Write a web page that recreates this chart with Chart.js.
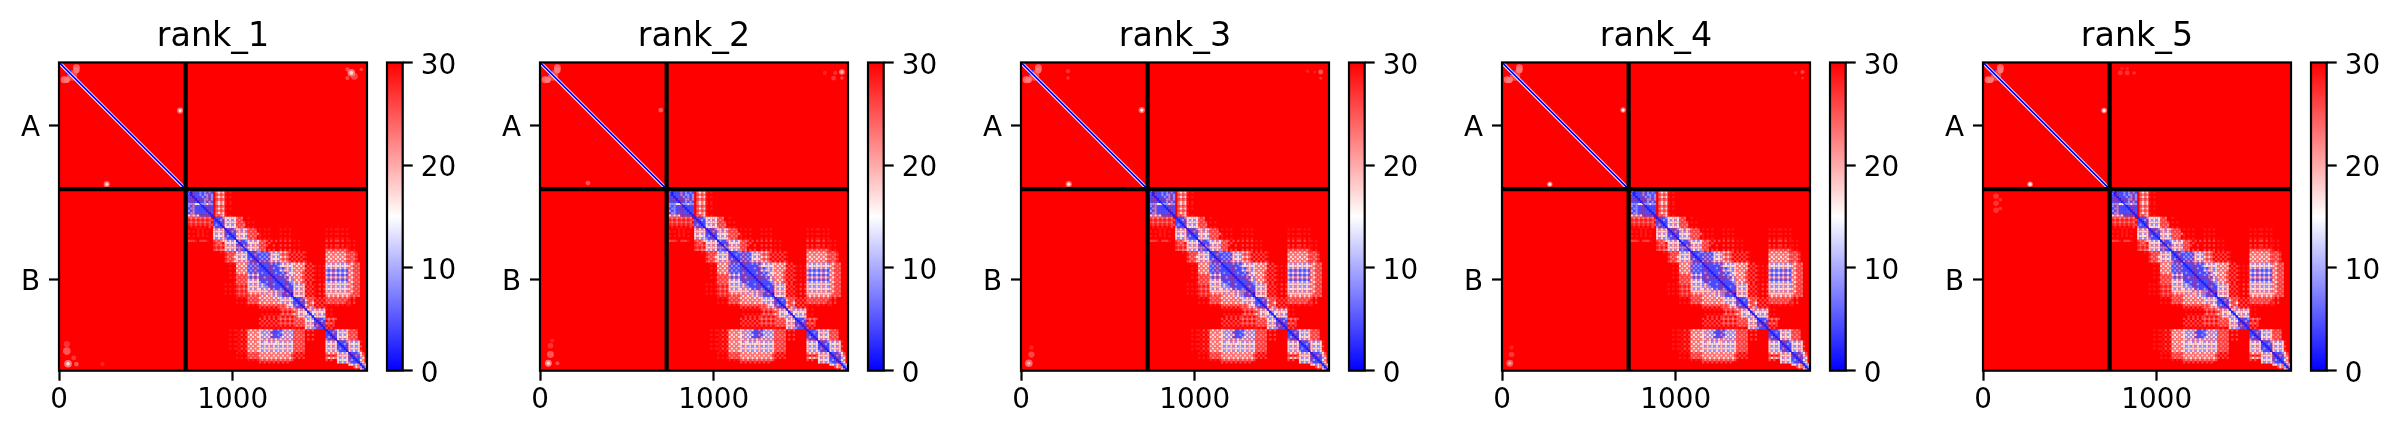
<!DOCTYPE html>
<html>
<head>
<meta charset="utf-8">
<title>PAE</title>
<script src="https://cdn.jsdelivr.net/npm/chart.js@4"></script>
<style>
  html, body { margin: 0; background: #fff; overflow: hidden; }
  body { position: relative; width: 2401px; height: 438px; }
  canvas { position: absolute; top: 0; }
</style>
</head>
<body>
<script>
const rankNames = ['rank_1', 'rank_2', 'rank_3', 'rank_4', 'rank_5'];
const residueCount = 1773;
const chainBreak = 729;
const chainBStart = 742;
const chainLabels = ['A', 'B'];
const chainCentres = [364.5, 1251];
const xTickValues = [0, 1000];
const colorbarTicks = [0, 10, 20, 30];
const paeRange = [0, 30];

// PAE levels used in the chain B grid below
const levelChars = ['q', 'r', 'p', 'w', 'l', 'b', 'd'];
const levelValues = [28.5, 26, 23, 17, 8.5, 4.5, 1];
const cellSpan = 13.2; // residues per grid cell

// chain B vs chain B, '.' is the 30 background
const chainBRows = [
  'wdbbblblblb .pwpw q.q.. ..... ..... ......... ...... ..... .... ..... ..... ..... ..... ...',
  'bdbbblbllbl .rprp ..... ..... ..... ......... ...... ..... .... ..... ..... ..... ..... ...',
  'bbdbbblblbl .pwpw q.q.. ..... ..... ......... ...... ..... .... ..... ..... ..... ..... ...',
  'bbbdbbbllbl .rprp ..... ..... ..... ......... ...... ..... .... ..... ..... ..... ..... ...',
  'bbbbdbblblb .pwpw q.q.. ..... ..... ......... ...... ..... .... ..... ..... ..... ..... ...',
  'lllwwwllwll .pwpw q.q.. ..... ..... ......... ...... ..... .... ..... ..... ..... ..... ...',
  'lblbbbdbbbb .rprp ..... ..... ..... ......... ...... ..... .... ..... ..... ..... ..... ...',
  'bllbbbbdbbb .pwpw q.q.. ..... ..... ......... ...... ..... .... ..... ..... ..... ..... ...',
  'lblbbbbbdbb .rprp ..... ..... ..... ......... ...... ..... .... ..... ..... ..... ..... ...',
  'bllbbbbbbdb .pwpw q.... ..... ..... ......... ...... ..... .... ..... ..... ..... ..... ...',
  'wlwlwbbbbbd .prpw q.q.. ..... ..... ......... ...... ..... .... ..... ..... ..... ..... ...',
  'rprprprprp. dbbbl wwwww prp.. q.... ......... ...... ..... .... ..... ..... ..... ..... ...',
  'qrqrqrqrqrr bdblb wlwlw rpr.. ..... ......... ...... ..... .... ..... ..... ..... ..... ...',
  'rprprprprp. bbdbb wwwww prpr. q.q.. ......... ...... ..... .... ..... ..... ..... ..... ...',
  'qrqrqrqrqrr blbdb wlwlw rprp. ..... ......... ...... ..... .... ..... ..... ..... ..... ...',
  '.q.q.q.q.r. lbbbd wwwww prpr. q.q.. ......... ...... ..... .... ..... ..... ..... ..... ...',
  '....q.q.... wlwlw dbbbl wwlww prpr. q.q.q.... q.q.q. ..... .... ..... q.q.q q.q.q ..... ...',
  'q.q.q.q.q.. wwwww bdblb lwlwl rprp. ......... ...... ..... .... ..... ..... ..... ..... ...',
  '....q.q.... wlwlw bbdbb wwwww prprp q.q.q.... q.q.q. ..... .... ..... q.q.q q.q.q ..... ...',
  'q.q.q.q.q.. wwwww blbdb lwlwl rprp. q........ ...... ..... .... ..... ..... ..... ..... ...',
  '........... wlwlw lbbbd wwwww prpr. q.q.q.... q.q.q. ..... .... ..... q.q.q q.q.q ..... ...',
  'rrrq.rrrq.. rprpw wlwlw dlbbl wlwlw prpr.r.r. r.r.r. q.q.. .... ..... r.r.r r.r.q q.q.. ...',
  '........... qrpr. wwwww ldbbb wwwww rpr.r.... ...... ..... .... ..... ..... ..... ..... ...',
  '........... rprpr wlwlw bbdlb lwlwl prpr..r.. r.r.r. q.q.. .... ..... r.r.r r.r.q q.q.. ...',
  '........... qrqr. wwwww lllll wwwww rpr...... ...... ..... .... ..... q.q.q q.q.q ..... ...',
  '........... rprpp wlwlw blbbd lwlwl prp.r.r.. r.r.r. q.q.. .... ..... prprp rprpr q.q.. ...',
  '........... ...q. rprpr wlwlw dbbbl lblblwlwl wpwpr. r.r.r q... ..... pwpwp wpwpr rprq. ...',
  '........... ..... qrprp wwwww bdblb blblbwwww prpr.r .r.r. .... ..... wpwpw pwpwp prpr. ...',
  '........... ..... rprpw wlwlw bbdbb lblblwlwl wpwpr. r.r.r q... ..... pwpwp wpwpr rprq. ...',
  '........... ..... qrprp wwwww blbdb blblbwwww prpr.r .r.r. .... ..... wpwpw pwpwp prpr. ...',
  '........... ..... rprpw wlwlw lbbbd lblblwlwl wpwpr. r.r.r q... ..... pwpwp wpwpr rprq. ...',
  '........... ..... ..q.q pwpwp lblbl dbbbblblb lwlwlw wpwpw r.r. ..... wlwlw lwlwl pwprp ...',
  '........... ..... ..... wpwpw blblb bdbbbbbbl wwwwww pwpwp .r.r q.q.q wwwww wwwww wprpr ...',
  '........... ..... ..q.q pwpwp lblbl bbdbbblbb lblwlw wpwpw r.r. ..... wlwlw lwlwl pwprp ...',
  '........... ..... ..... wpwpw blblb bbbdbbbbb wlwwlw pwpwp .r.r q.q.q lblbl blblb wprpr ...',
  '........... ..... ..q.q pwpwp lblbl blbbdbblb blblww wpwpr r.r. ..... wlwlw lwlwl pwprp ...',
  '........... ..... ..... rprpr wlwlw bbbbbdbbb lblwlw pwpwp .r.r q.q.q lblbl blblb wprpr ...',
  '........... ..... ..q.q prprp lblbl bblbbbdbb bblbwl wpwpr r.r. ..... wlwlw lwlwl pwprp ...',
  '........... ..... ..... rprpr wlwlw bbbbbbbdb bbblwl pwpwp .r.r q.q.q lblbl blblb wprpr ...',
  '........... ..... ....q prprp wwwww lbblbbbbd bbbbll wpwpr r.r. ..... wlwlw lwlwl pwprp ...',
  '........... ..... q.q.q rprpr wlwlw lwlbbblbb dbbbbl wlwlw r.r. q.r.r wwwww wwwww wprpr ...',
  '........... ..... ..... qrqrq wwwww lwllbbbbb bdblbb wwwww .r.r ..... wlwlw lwlwl pwprp ...',
  '........... ..... q.q.q rprpr wlwlw wlwlwblbb lbdbbb wlwlw r.r. q.r.r wwwww wwwww wprpr ...',
  '........... ..... ..... qrqrq wwwww wwwwlwlwl llbdbb wwwww .r.r ..... wlwlw lwlwl pwprp ...',
  '........... ..... q.q.q rprpr pwpwp wlwlwwlwl lbblbd wlwlw r.r. q.r.r wwwww wwwww wprpr ...',
  '........... ..... ..... qrqrq rprpr pwpwpwlwl lbbbbd wwwww .r.r ..... pwpwp wpwpw prprp ...',
  '........... ..... ..... q.q.q prprp wpwpwpwpw wlwlwl dbbbl prpr r.r.r rprpr prprp r.r.. ...',
  '........... ..... ..... ..... rprpr pwpwpwpwp wwwwww bdblb wprp .r.r. prprp rprpr q.q.. ...',
  '........... ..... ..... q.q.q prprp wpwpwpwpw wlwlwl bbdbb prpw r.r.r rprpr prprq r.r.. ...',
  '........... ..... ..... ..... q.q.q rprprprpr prpwww blbdb wprp .r.r. q.q.q q.q.q q.... ...',
  '........... ..... ..... ..... ..... r.r.r.r.r prpwlw lbbbd prwl r.r.r ..... ..... ..... ...',
  '........... ..... ..... ..... ..... .q.q.q.q. rprprp wpwlw dwwl wlwlw q.q.. ..... ..... ...',
  '........... ..... ..... ..... ..... ......... .r.r.r rpwww wdlw wwwww ..... ..... ..... ...',
  '........... ..... ..... ..... ..... .q.q.q.q. rprprp wpwlw wldw lwlwl q.q.. ..... ..... ...',
  '........... ..... ..... ..... ..... ..r.r.r.r r.r.r. rpwww lwwd wwwww ..... ..... ..... ...',
  '........... ..... ..... ..... ..... r.r.r.r.r prprpr prprp wlwl dbbbl rprpr ..... ..... ...',
  '........... ..... ..... ..... ..... .r.r.r.r. r.r.r. rprpr wwww bdblb .r.r. ..... ..... ...',
  '........... ..... ..... ..... ..... r.r.r.r.r prprpr prprp wlwl bbdbb prpr. ..... ..... ...',
  '........... ..... ..... ..... ..... .r.r.r.r. r.r.r. rprpr wwww blbdb .r.r. ..... ..... ...',
  '........... ..... ..... ..... ..... q.q.q.q.q .q.q.q q.q.. wlwl lbbbd r.r.. ..... ..... ...',
  '........... ..... ..q.q q.r.r pwpwp wwlwlwbbl blwlwl prprp .r.r ..... dbbbl wlwlw prpr. ...',
  '........... ..... ..... .q.q. wpwpw wlwlwbbbb lwlwlw rprpr .... ..... bdblb wwwww rprp. ...',
  '........... ..... ..q.q q.r.r pwpwp wwlwlwbbl blwlwl prprp .r.r ..... bbdbb wlwlw prpr. ...',
  '........... ..... ..... .q.q. wpwpw wlwlwbbbb lwlwlw rprpr .... ..... blbdb wwwww rprp. ...',
  '........... ..... ..q.q q.r.r pwpwp wwlwlwlwl wlwlwl prprp .r.r ..... lbbbd wlwlw prpr. ...',
  '........... ..... ..... .q.q. wpwpw wlwwlwlww lwlwlw rprpr .... ..... wlwlw dbbbl wlwlw q..',
  '........... ..... ..q.q q.r.r pwpwp wwwwwwwww wwwwww prprp .... ..... wwwww bdblb wwwww ...',
  '........... ..... ..... .q.q. wpwpw wlwlwlwlw lwlwlw rprpr .... ..... wlwlw bbdbb wlwlw r..',
  '........... ..... ..q.q q.r.r pwpwp wwwwwwwww wwwwww prprp .... ..... wwwww blbdb wwwww ...',
  '........... ..... ..... .q.q. wpwpw wlwlwlwlw lwlwlw rprpr .... ..... wlwlw lbbbd wlwlw r..',
  '........... ..... ..... q.q.q rprpr pwpwpwpwp wpwpwp r.r.r .... ..... pwpwp wlwlw dbbbl wr.',
  '........... ..... ..... ..... prprp wpwpwpwpw pwpwpr .r.r. .... ..... r.r.r wwwww bdblb wp.',
  '........... ..... ..... q.q.q rprpr pwpwpwpwp wpwpwp r.r.r .... ..... pwpwp wlwlw bbdbb lw.',
  '........... ..... ..... ..... q.q.q rprprprpr prprpr ..... .... ..... r.r.. wwwww blbdb wp.',
  '........... ..... ..... ..... ..... r.r.r.r.r .r.r.. ..... .... ..... ..... wlwlw lbbbd lw.',
  '........... ..... ..... ..... ..... ......... ...... ..... .... ..... ..... ..... wwlwp dlw',
  '........... ..... ..... ..... ..... ......... ...... ..... .... ..... ..... ..... ..rwp ldl',
  '........... ..... ..... ..... ..... ......... ...... ..... .... ..... ..... ..... ...r. wld',
];

// spots as [x residue, y residue, radius in residues, pae]
const diagSpots = [
  [75, 75, 30, 26], [30, 100, 20, 24], [45, 100, 18, 23], [100, 30, 20, 24], [100, 45, 18, 23],
  [56, 56, 16, 2], [112, 112, 14, 3], [278, 278, 9, 6],
];
const rank1Spots = [
  [697, 277, 18, 24], [697, 277, 9, 17], [275, 700, 18, 24], [275, 700, 9, 17],
  [1700, 80, 20, 26], [1660, 40, 12, 26], [1660, 90, 12, 26], [1740, 40, 10, 26], [1683, 59, 22, 23], [1683, 59, 11, 17],
  [45, 1660, 22, 25], [45, 1620, 18, 27], [100, 1735, 14, 25], [85, 1700, 14, 27], [52, 1733, 22, 23], [52, 1733, 10, 17],
  [250, 1735, 12, 28],
];
const rank2Spots = [
  [695, 274, 14, 25], [276, 694, 14, 25], [1690, 90, 14, 27], [1640, 60, 12, 28], [1700, 60, 12, 27],
  [1738, 90, 10, 26], [1738, 55, 16, 23], [1738, 55, 7, 19],
  [60, 1680, 20, 25], [60, 1630, 16, 27], [70, 1600, 12, 28], [100, 1730, 12, 26], [48, 1730, 20, 23], [48, 1730, 10, 18],
];
const rank3Spots = [
  [695, 274, 18, 24], [695, 274, 9, 16], [275, 700, 18, 24], [275, 700, 9, 16],
  [271, 50, 12, 27], [271, 90, 10, 27], [1650, 50, 10, 28], [1690, 55, 8, 28], [1725, 90, 9, 27], [1725, 55, 14, 25],
  [60, 1680, 18, 26], [60, 1640, 14, 28], [45, 1730, 22, 24], [45, 1730, 10, 20],
];
const rank4Spots = [
  [697, 274, 16, 24], [697, 274, 9, 16], [275, 700, 16, 24], [275, 700, 9, 16],
  [1690, 60, 10, 28], [1730, 90, 8, 27], [1730, 55, 12, 26],
  [55, 1680, 16, 27], [55, 1640, 12, 28], [45, 1730, 20, 25], [45, 1730, 10, 21],
];
const rank5Spots = [
  [697, 277, 16, 23], [697, 277, 9, 14], [271, 700, 16, 23], [271, 700, 9, 14],
  [790, 60, 14, 27], [830, 60, 14, 27], [870, 60, 10, 27], [800, 35, 10, 28], [830, 35, 10, 28],
  [75, 770, 16, 27], [75, 810, 16, 27], [75, 850, 16, 27], [100, 790, 10, 27], [100, 840, 10, 27],
];
const rankSpots = [rank1Spots, rank2Spots, rank3Spots, rank4Spots, rank5Spots];

const panelLefts = [59, 540, 1021, 1502, 1983];
const panelSize = 308;
const axisTop = 62.5;
const axisBottom = 67.3;
const FONT = 'DejaVu Sans';

// matplotlib bwr
function bwr(v) {
  const t = Math.max(0, Math.min(1, v / paeRange[1]));
  const r = t < 0.5 ? 2 * t : 1;
  const g = 1 - Math.abs(2 * t - 1);
  const b = t < 0.5 ? 1 : 2 - 2 * t;
  return `rgb(${Math.round(r * 255)},${Math.round(g * 255)},${Math.round(b * 255)})`;
}

function chainBCells() {
  const cells = [];
  chainBRows.forEach((row, r) => {
    const chars = row.replace(/ /g, '');
    for (let c = 0; c < chars.length; c++) {
      const lvl = levelChars.indexOf(chars[c]);
      if (lvl < 0) continue;
      cells.push({
        x: chainBStart + (c + 0.5) * cellSpan,
        y: chainBStart + (r + 0.5) * cellSpan,
        v: levelValues[lvl],
      });
    }
  });
  return cells;
}

function pxPerResidue(chart) {
  const s = chart.scales.x;
  return s.width / (s.max - s.min);
}

const framePlugin = {
  id: 'frame',
  afterDraw(chart) {
    const { ctx, chartArea: a } = chart;
    ctx.save();
    ctx.strokeStyle = '#000';
    ctx.lineWidth = 2.2;
    ctx.strokeRect(a.left, a.top, a.right - a.left, a.bottom - a.top);
    ctx.restore();
  },
};

// red background below the cells, then soften them like imshow does
const softenPlugin = {
  id: 'soften',
  beforeDatasetsDraw(chart) {
    const { ctx, chartArea: a } = chart;
    ctx.save();
    ctx.fillStyle = bwr(paeRange[1]);
    ctx.fillRect(a.left, a.top, a.right - a.left, a.bottom - a.top);
    ctx.restore();
  },
  afterDatasetDraw(chart, args) {
    if (args.index !== 2) return;
    const { ctx, chartArea: a } = chart;
    ctx.save();
    ctx.beginPath();
    ctx.rect(a.left, a.top, a.right - a.left, a.bottom - a.top);
    ctx.clip();
    ctx.filter = 'blur(0.5px)';
    ctx.drawImage(chart.canvas, 0, 0);
    ctx.restore();
  },
};

function makeCanvas(left, width) {
  const canvas = document.createElement('canvas');
  canvas.width = width;
  canvas.height = 438;
  canvas.style.left = left + 'px';
  canvas.style.width = width + 'px';
  canvas.style.height = '438px';
  document.body.appendChild(canvas);
  return canvas;
}

function line(points, color, width) {
  return {
    data: points.map(([x, y]) => ({ x, y })),
    showLine: true,
    borderColor: color,
    borderWidth: width,
    pointRadius: 0,
    clip: false,
  };
}

function renderPanel(i) {
  const left = panelLefts[i];
  // canvas is symmetric round the axes so the title stays centred over them
  const canvas = makeCanvas(left - 59, 59 + panelSize + 59);
  const spots = diagSpots.concat(rankSpots[i]).map(([x, y, r, v]) => ({ x, y, r, v }));

  new Chart(canvas.getContext('2d'), {
    type: 'scatter',
    data: {
      datasets: [
        // first dataset is drawn last
        line([[chainBreak, 0], [chainBreak, residueCount]], '#000', 4.2),
        line([[0, chainBreak], [residueCount, chainBreak]], '#000', 4.2),
        line([[0, 0], [chainBreak, chainBreak]], bwr(0), 1.7),
        line([[chainBStart, chainBStart], [residueCount, residueCount]], bwr(2), 1.2),
        line([[0, 0], [chainBreak, chainBreak]], bwr(15), 3.4),
        {
          data: chainBCells(),
          pointStyle: 'rect',
          borderWidth: 0,
          pointBorderWidth: 0,
          pointRadius: ctx => (cellSpan * pxPerResidue(ctx.chart)) / Math.SQRT2,
          backgroundColor: ctx => bwr(ctx.raw ? ctx.raw.v : 30),
        },
        {
          data: spots,
          pointStyle: 'circle',
          pointBorderWidth: 0,
          pointRadius: ctx => (ctx.raw ? ctx.raw.r * pxPerResidue(ctx.chart) : 0),
          backgroundColor: ctx => bwr(ctx.raw ? ctx.raw.v : 30),
        },
      ],
    },
    options: {
      responsive: false,
      animation: false,
      devicePixelRatio: 1,
      events: [],
      layout: { padding: 0 },
      plugins: {
        legend: { display: false },
        tooltip: { enabled: false },
        title: {
          display: true,
          text: rankNames[i],
          color: '#000',
          font: { family: FONT, size: 33.3, weight: 'normal', lineHeight: 1.2 },
          padding: { top: 17.5, bottom: 5 },
        },
      },
      scales: {
        x: {
          type: 'linear',
          min: 0,
          max: residueCount,
          border: { display: false },
          grid: { drawOnChartArea: false, tickLength: 10, tickWidth: 2.2, tickColor: '#000' },
          ticks: {
            color: '#000',
            font: { family: FONT, size: 27.8 },
            padding: 3,
            maxRotation: 0,
            autoSkip: false,
            callback: v => String(v),
          },
          afterBuildTicks: s => { s.ticks = xTickValues.map(value => ({ value })); },
          afterFit: s => { s.height = axisBottom; },
        },
        y: {
          type: 'linear',
          reverse: true,
          min: 0,
          max: residueCount,
          border: { display: false },
          grid: { drawOnChartArea: false, tickLength: 10, tickWidth: 2.2, tickColor: '#000' },
          ticks: {
            color: '#000',
            font: { family: FONT, size: 27.8 },
            padding: 9,
            labelOffset: 3,
            autoSkip: false,
            callback: v => chainLabels[chainCentres.indexOf(v)],
          },
          afterBuildTicks: s => { s.ticks = chainCentres.map(value => ({ value })); },
          afterFit: s => { s.width = 59; },
        },
        // empty axis, balances the left one
        spacer: {
          type: 'linear',
          position: 'right',
          border: { display: false },
          grid: { display: false },
          ticks: { display: false },
          afterFit: s => { s.width = 59; },
        },
      },
    },
    plugins: [softenPlugin, framePlugin],
  });

  renderColorbar(left + 328);
}

function renderColorbar(left) {
  const canvas = makeCanvas(left - 4, 100);
  new Chart(canvas.getContext('2d'), {
    type: 'bar',
    data: {
      labels: ['pae'],
      datasets: [{
        data: [paeRange],
        barPercentage: 1,
        categoryPercentage: 1,
        borderWidth: 0,
        backgroundColor: ctx => {
          const { chart } = ctx;
          if (!chart.chartArea) return bwr(15);
          const y = chart.scales.y;
          const g = chart.ctx.createLinearGradient(0, y.getPixelForValue(paeRange[0]), 0, y.getPixelForValue(paeRange[1]));
          g.addColorStop(0, bwr(0));
          g.addColorStop(0.5, bwr(15));
          g.addColorStop(1, bwr(30));
          return g;
        },
      }],
    },
    options: {
      responsive: false,
      animation: false,
      devicePixelRatio: 1,
      events: [],
      layout: { padding: { left: 4, right: 0, top: axisTop, bottom: axisBottom } },
      plugins: { legend: { display: false }, tooltip: { enabled: false } },
      scales: {
        x: { display: false },
        y: {
          position: 'right',
          min: paeRange[0],
          max: paeRange[1],
          border: { display: false },
          grid: { drawOnChartArea: false, tickLength: 10, tickWidth: 2.2, tickColor: '#000' },
          ticks: {
            color: '#000',
            font: { family: FONT, size: 27.8 },
            padding: 8,
            labelOffset: 4,
            autoSkip: false,
            callback: v => String(v),
          },
          afterBuildTicks: s => { s.ticks = colorbarTicks.map(value => ({ value })); },
          afterFit: s => { s.width = 100 - 4 - 15.7; },
        },
      },
    },
    plugins: [framePlugin],
  });
}

rankNames.forEach((_, i) => renderPanel(i));
</script>
</body>
</html>
